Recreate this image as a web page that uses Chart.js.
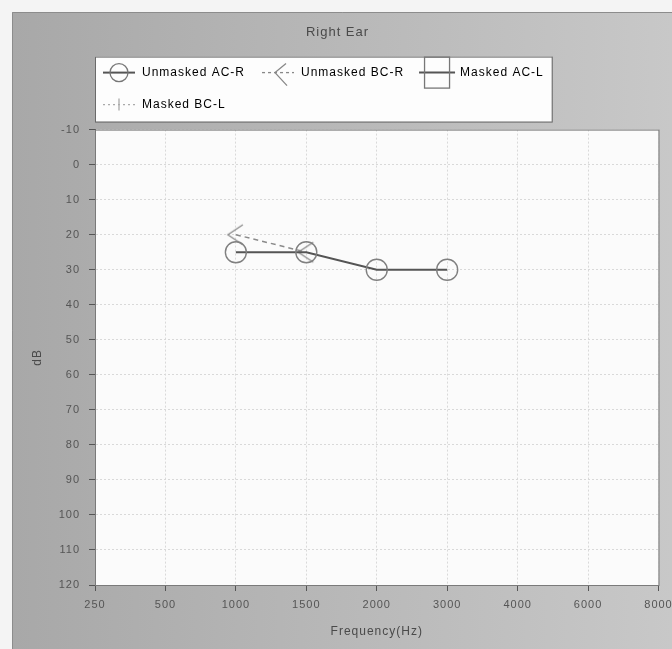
<!DOCTYPE html>
<html>
<head>
<meta charset="utf-8">
<title>Right Ear</title>
<script src="https://cdn.jsdelivr.net/npm/chart.js@4.4.1/dist/chart.umd.min.js"></script>
<style>
  html, body { margin: 0; padding: 0; background: #f4f4f4; }
  #wrap { width: 672px; height: 649px; }
</style>
</head>
<body>
<div id="wrap"><canvas id="audiogram" width="672" height="649"></canvas></div>
<script>
const frequencies = ['250', '500', '1000', '1500', '2000', '3000', '4000', '6000', '8000'];
const unmaskedAcR = [null, null, 25, 25, 30, 30, null, null, null];
const unmaskedBcR = [null, null, 20, 25, null, null, null, null, null];
const maskedAcL = [null, null, null, null, null, null, null, null, null];
const maskedBcL = [null, null, null, null, null, null, null, null, null];
const seriesNames = ['Unmasked AC-R', 'Unmasked BC-R', 'Masked AC-L', 'Masked BC-L'];
const dbTicks = [-10, 0, 10, 20, 30, 40, 50, 60, 70, 80, 90, 100, 110, 120];

const FONT = "'Liberation Sans', Arial, sans-serif";
const SPACING = '1px'; // le scan etire un peu le texte

// petit canvas pour le symbole "<" de la conduction osseuse
function makeCanvas(w, h, draw) {
    const c = document.createElement('canvas');
    c.width = w; c.height = h;
    draw(c.getContext('2d'), w, h);
    return c;
}
const ltMarker = makeCanvas(24, 24, (g, w, h) => {
    g.strokeStyle = '#8a8a8a'; g.lineWidth = 1.3;
    g.beginPath(); g.moveTo(19, 2); g.lineTo(4, 12); g.lineTo(19, 22); g.stroke();
});

// icones de la legende, dessinees a la main (ligne + symbole)
function drawLegendIcon(ctx, i, cx, cy) {
    ctx.save();
    if (i === 0) {
        ctx.strokeStyle = '#555'; ctx.lineWidth = 2;
        ctx.beginPath(); ctx.moveTo(cx - 16, cy); ctx.lineTo(cx + 16, cy); ctx.stroke();
        ctx.strokeStyle = '#777'; ctx.lineWidth = 1.3;
        ctx.beginPath(); ctx.arc(cx, cy, 9, 0, Math.PI * 2); ctx.stroke();
    } else if (i === 1) {
        ctx.strokeStyle = '#888'; ctx.lineWidth = 1.3;
        ctx.setLineDash([3, 3]);
        ctx.beginPath(); ctx.moveTo(cx - 16, cy); ctx.lineTo(cx + 16, cy); ctx.stroke();
        ctx.setLineDash([]);
        ctx.beginPath(); ctx.moveTo(cx + 8, cy - 9); ctx.lineTo(cx - 3, cy); ctx.lineTo(cx + 9, cy + 13); ctx.stroke();
    } else if (i === 2) {
        ctx.strokeStyle = '#555'; ctx.lineWidth = 2;
        ctx.beginPath(); ctx.moveTo(cx - 18, cy); ctx.lineTo(cx + 18, cy); ctx.stroke();
        ctx.strokeStyle = '#777'; ctx.lineWidth = 1.3;
        ctx.strokeRect(cx - 12.5, cy - 15.5, 25, 31);
    } else {
        ctx.strokeStyle = '#aaa'; ctx.lineWidth = 1.3;
        ctx.setLineDash([2, 3]);
        ctx.beginPath(); ctx.moveTo(cx - 16, cy); ctx.lineTo(cx + 16, cy); ctx.stroke();
        ctx.setLineDash([]);
        ctx.beginPath(); ctx.moveTo(cx, cy - 6); ctx.lineTo(cx, cy + 6); ctx.stroke();
    }
    ctx.restore();
}

const panelPlugin = {
    id: 'panel',
    afterInit(chart) {
        // un peu d'air sous la legende, comme sur l'original
        const legend = chart.legend;
        const fit = legend.fit.bind(legend);
        legend.fit = () => { fit(); legend.height += 7; };
    },
    beforeUpdate(chart) { chart.ctx.letterSpacing = SPACING; },
    afterLayout(chart) { chart.legend.left -= 9; },
    beforeDraw(chart) {
        const { ctx, chartArea: a } = chart;
        ctx.save();
        ctx.fillStyle = '#f4f4f4';
        ctx.fillRect(0, 0, chart.width, chart.height);
        const grad = ctx.createLinearGradient(12, 0, chart.width, 0);
        grad.addColorStop(0, '#a8a8a8');
        grad.addColorStop(0.5, '#b8b8b8');
        grad.addColorStop(1, '#c8c8c8');
        ctx.fillStyle = grad;
        ctx.fillRect(12, 12, chart.width - 12, chart.height - 12);
        ctx.strokeStyle = '#8c8c8c'; ctx.lineWidth = 1;
        ctx.beginPath(); ctx.moveTo(12.5, chart.height); ctx.lineTo(12.5, 12.5); ctx.lineTo(chart.width, 12.5); ctx.stroke();

        ctx.fillStyle = '#fbfbfb';
        ctx.fillRect(a.left, a.top, a.right - a.left, a.bottom - a.top);

        // cadre blanc de la legende
        const boxes = chart.legend.legendHitBoxes || [];
        if (boxes.length) {
            const right = Math.max(...boxes.map(b => b.left + b.width)) + 8;
            const top = boxes[0].top - 8;
            const last = boxes[boxes.length - 1];
            const bottom = last.top + last.height + 9;
            ctx.fillStyle = '#fdfdfd';
            ctx.fillRect(a.left, top, right - a.left, bottom - top);
            ctx.strokeStyle = '#6a6a6a';
            ctx.strokeRect(a.left + 0.5, top + 0.5, right - a.left, bottom - top);
        }
        ctx.restore();
        ctx.letterSpacing = SPACING;
    },
    afterDraw(chart) {
        const { ctx, chartArea: a } = chart;
        ctx.save();
        ctx.strokeStyle = '#7a7a7a'; ctx.lineWidth = 1;
        ctx.strokeRect(a.left + 0.5, a.top + 0.5, a.right - a.left, a.bottom - a.top);
        ctx.restore();
        (chart.legend.legendHitBoxes || []).forEach((b, i) => {
            drawLegendIcon(ctx, i, b.left + 17, b.top + b.height / 2);
        });
    }
};

const ctx = document.getElementById('audiogram').getContext('2d');
new Chart(ctx, {
    type: 'line',
    data: {
        labels: frequencies,
        datasets: [
            { label: seriesNames[0], data: unmaskedAcR, borderColor: '#555', borderWidth: 2,
              pointStyle: 'circle', pointRadius: 10.5, pointBorderColor: '#808080', pointBorderWidth: 1.4,
              pointBackgroundColor: 'rgba(0,0,0,0)' },
            { label: seriesNames[1], data: unmaskedBcR, borderColor: '#8a8a8a', borderWidth: 1.5,
              borderDash: [5, 4], pointStyle: ltMarker, pointRadius: 12 },
            { label: seriesNames[2], data: maskedAcL, borderColor: '#555', borderWidth: 2, pointStyle: 'rect', pointRadius: 10 },
            { label: seriesNames[3], data: maskedBcL, borderColor: '#aaa', borderWidth: 1.3, borderDash: [2, 3], pointRadius: 0 }
        ]
    },
    options: {
        responsive: false,
        devicePixelRatio: 1,
        animation: false,
        layout: { padding: { left: 14, right: 11, top: 12, bottom: 0 } },
        plugins: {
            title: {
                display: true, text: 'Right Ear', color: '#4a4a4a',
                font: { family: FONT, size: 13, weight: 'normal' },
                padding: { top: 13, bottom: 8 }
            },
            legend: {
                position: 'top', align: 'start', fullSize: false,
                labels: {
                    boxWidth: 34, boxHeight: 16, padding: 16, color: '#454545',
                    font: { family: FONT, size: 12 },
                    generateLabels: chart => chart.data.datasets.map((ds, i) => ({
                        text: ds.label, datasetIndex: i, hidden: false,
                        fillStyle: 'rgba(0,0,0,0)', strokeStyle: 'rgba(0,0,0,0)', lineWidth: 0
                    }))
                }
            },
            tooltip: { enabled: false }
        },
        scales: {
            x: {
                type: 'category', offset: false,
                afterFit: s => { s.height = 64; s.paddingRight = 0; s.paddingLeft = 0; },
                grid: { color: '#d9d9d9', tickColor: '#555', tickLength: 6, offset: false },
                border: { color: '#555', dash: [2, 2] },
                ticks: { color: '#555', padding: 7, maxRotation: 0, autoSkip: false, font: { family: FONT, size: 11 } },
                title: { display: true, text: 'Frequency(Hz)', color: '#4a4a4a',
                         font: { family: FONT, size: 12 }, padding: { top: 4, bottom: 10 } }
            },
            y: {
                reverse: true, min: -10, max: 120,
                afterBuildTicks: s => { s.ticks = dbTicks.map(v => ({ value: v })); },
                afterFit: s => { s.width = 81; },
                grid: { color: '#d9d9d9', tickColor: '#555', tickLength: 6 },
                border: { color: '#555', dash: [2, 2] },
                ticks: { color: '#555', padding: 9, font: { family: FONT, size: 11 } },
                title: { display: true, text: 'dB', color: '#4a4a4a',
                         font: { family: FONT, size: 12 }, padding: { top: 16, bottom: 4 } }
            }
        }
    },
    plugins: [panelPlugin]
});
</script>
</body>
</html>
